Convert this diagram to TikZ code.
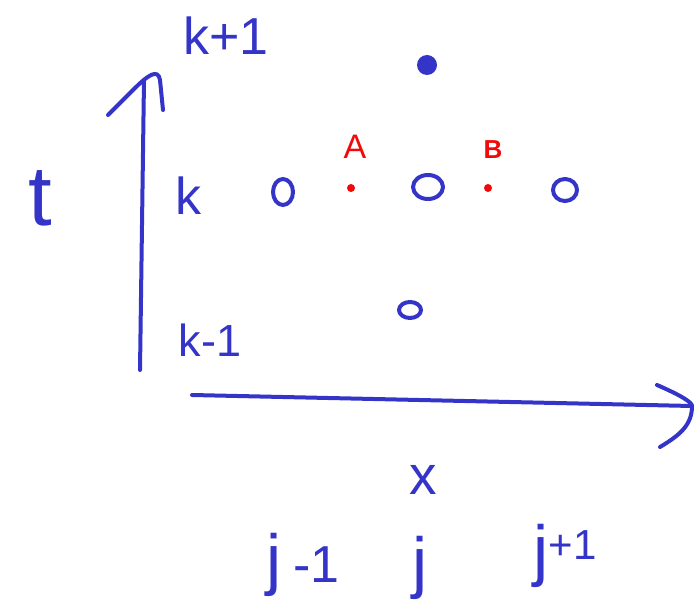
\documentclass[tikz,border=0pt]{standalone}
\usepackage{fontspec}
\setmainfont{Liberation Sans}
\definecolor{pen}{RGB}{52,52,200}
\definecolor{redpen}{RGB}{240,10,10}
\begin{document}
\begin{tikzpicture}[x=1pt,y=-1pt,
  ink/.style={draw=pen,line width=4pt,line cap=round,line join=round},
  lbl/.style={text=pen,inner sep=0pt,font=\fontsize{#1}{#1}\selectfont},
  rlbl/.style={text=redpen,inner sep=0pt,font=\fontsize{#1}{#1}\selectfont},
]
\useasboundingbox (0,0) rectangle (696,604);
% axes
\coordinate (vbot) at (140,370);
\coordinate (vtop) at (144,80);
\coordinate (hl) at (192,395);
\coordinate (hr) at (692,406);
\draw[ink] (vbot) -- (vtop);
\draw[ink] (108,115) -- (133,90) .. controls (148,75) and (158,68) .. (160,80) -- (163,110);
\draw[ink] (hl) -- (hr);
\draw[ink] (657,385) .. controls (680,395) and (692,402) .. (hr) .. controls (692,425) and (680,435) .. (660,447);
% labels
\node[lbl=85] (t) at (40,198) {t};
\node[lbl=52] (kp1) at (226,36) {k+1};
\node[lbl=52] (k) at (188,196) {k};
\node[lbl=45] (km1) at (210,340) {k-1};
\node[lbl=55] (x) at (423,480) {x};
\node[lbl=68] (jm1) at (303,565) {j\,\fontsize{52}{52}\selectfont-1};
\node[lbl=68] (j) at (420,568) {j};
\node[lbl=68] (jp1) at (565,556) {j\raisebox{14pt}{\fontsize{42}{42}\selectfont+1}};
% grid points
\fill[pen] (427,65) circle (10) coordinate (top);
\draw[ink] (283,192) ellipse (10 and 13);
\draw[ink] (428,187) ellipse (15 and 12);
\draw[ink] (565,190) ellipse (12 and 11);
\draw[ink] (410,310) ellipse (11 and 8);
% red points
\fill[redpen] (351,188) circle (4) coordinate (pa);
\fill[redpen] (488,188) circle (4) coordinate (pb);
\node[rlbl=34] (A) at (355,147) {A};
\node[rlbl=26] (B) at (493,150) {\bfseries B};
\end{tikzpicture}
\end{document}
